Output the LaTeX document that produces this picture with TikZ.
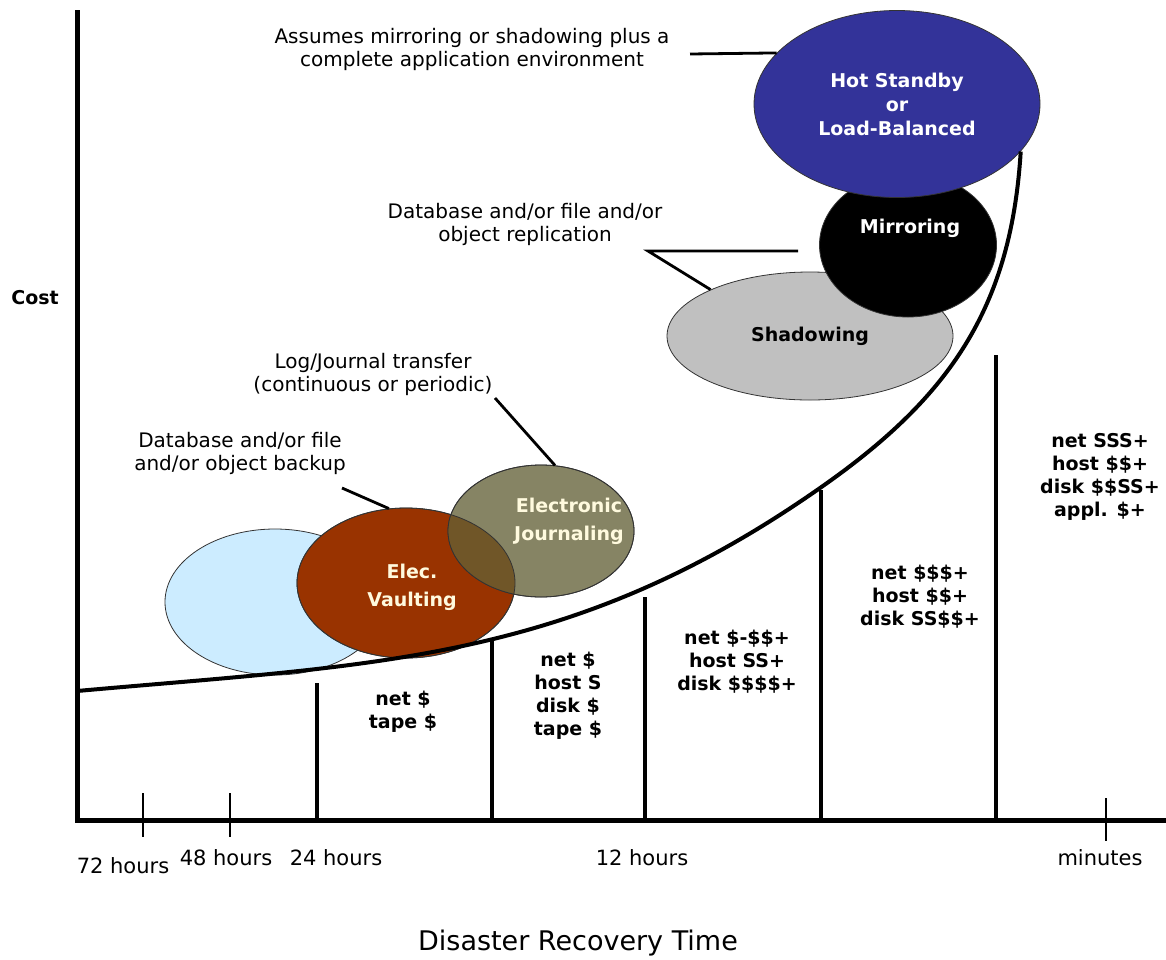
\documentclass[tikz,border=0pt]{standalone}
\usepackage{fontspec}
\setmainfont{DejaVu Sans}
\usepackage{tikz}
\usetikzlibrary{shapes.geometric}

\definecolor{hotblue}{RGB}{51,51,153}
\definecolor{shadowgray}{RGB}{192,192,192}
\definecolor{journolive}{RGB}{134,132,100}
\definecolor{vaultbrown}{RGB}{153,51,0}
\definecolor{backupblue}{RGB}{204,236,255}
\definecolor{overlapbrown}{RGB}{112,86,40}
\definecolor{cream}{RGB}{255,250,222}

\tikzset{
  blob/.style={ellipse, draw=black!80, line width=0.8pt, inner sep=0pt},
  blobtext/.style={font=\fontsize{19}{24}\selectfont\bfseries, align=center, text=white},
  note/.style={font=\fontsize{20}{23}\selectfont, align=center},
  price/.style={font=\fontsize{19}{23}\selectfont\bfseries, align=center},
  hours/.style={font=\fontsize{21}{24}\selectfont},
  bar/.style={line width=3.5pt},
  tickmark/.style={line width=2.5pt},
  lead/.style={line width=2.8pt},
}

\begin{document}
\begin{tikzpicture}[x=1pt,y=-1pt]
\useasboundingbox (0,0) rectangle (1166,959);

% axes
\draw[line width=5pt] (77,10) -- (77,820) -- (1166,820);
\node[font=\fontsize{19}{23}\selectfont\bfseries] (cost) at (35,298) {Cost};

% upper options
\node[blob, fill=shadowgray, minimum width=286pt, minimum height=128pt, font=\fontsize{19}{24}\selectfont\bfseries] (shadow) at (810,336) {Shadowing};
\node[blob, fill=black, minimum width=177pt, minimum height=144pt] (mirror) at (908,245) {};
\node[blobtext] (mirrortxt) at (910,228) {Mirroring};
\node[blob, fill=hotblue, minimum width=286pt, minimum height=187pt, blobtext] (hot) at (897,104) {Hot Standby\\or\\Load-Balanced};

% lower options
\node[blob, fill=backupblue, minimum width=220pt, minimum height=146pt] (backup) at (275,602) {};
\node[blob, fill=vaultbrown, minimum width=218pt, minimum height=150pt] (vault) at (406,583) {};
\node[blob, fill=journolive, minimum width=186pt, minimum height=132pt] (jour) at (541,531) {};
\begin{scope}
  \clip (jour.center) ellipse [x radius=93pt, y radius=66pt];
  \fill[overlapbrown] (vault.center) ellipse [x radius=109pt, y radius=75pt];
\end{scope}
\draw[black!80, line width=0.8pt] (vault.center) ellipse [x radius=109pt, y radius=75pt]
  (jour.center) ellipse [x radius=93pt, y radius=66pt];
\node[blobtext, text=cream, font=\fontsize{19}{28}\selectfont\bfseries] (vaulttxt) at (412,587) {Elec.\\Vaulting};
\node[blobtext, text=cream, font=\fontsize{19}{28}\selectfont\bfseries] (jourtxt) at (569,521) {Electronic\\Journaling};

% cost curve
\coordinate (curvestart) at (77,691);
\coordinate (curvemid) at (820,488);
\draw[line width=4pt] (curvestart) .. controls (377,664) and (570,663) .. (curvemid)
  .. controls (949,398) and (1011,309) .. (hot.-21);

% notes and leaders
\node[note] (assume) at (472,49) {Assumes mirroring or shadowing plus a\\complete application environment};
\node[note] (replic) at (525,224) {Database and/or file and/or\\object replication};
\node[note] (logxfer) at (373,374) {Log/Journal transfer\\(continuous or periodic)};
\node[note] (bkup) at (240,453) {Database and/or file\\and/or object backup};
\coordinate (assumeend) at (690,54);
\coordinate (replicend) at (798,251);
\coordinate (replicbend) at (648,251);
\coordinate (logend) at (495,398);
\coordinate (bkupend) at (342,488);
\draw[lead] (assumeend) -- (hot.157);
\draw[lead] (replicend) -- (replicbend) -- (shadow.155);
\draw[lead] (logend) -- (jour.78);
\draw[lead] (bkupend) -- (vault.103);

% columns
\draw[bar] (317,683) -- (317,818);
\draw[bar] (492,640) -- (492,818);
\draw[bar] (645,597) -- (645,818);
\draw[bar] (821,490) -- (821,818);
\draw[bar] (996,355) -- (996,818);
\node[price] (col1) at (403,712) {net \$\\tape \$};
\node[price] (col2) at (568,696) {net \$\\host S\\disk \$\\tape \$};
\node[price] (col3) at (737,662) {net \$-\$\$+\\host SS+\\disk \$\$\$\$+};
\node[price] (col4) at (920,597) {net \$\$\$+\\host \$\$+\\disk SS\$\$+};
\node[price] (col5) at (1100,477) {net SSS+\\host \$\$+\\disk \$\$SS+\\appl. \$+};

% time axis
\draw[tickmark] (143,793) -- (143,837);
\draw[tickmark] (230,793) -- (230,837);
\draw[tickmark] (1106,798) -- (1106,841);
\node[hours] (h72) at (123,866) {72 hours};
\node[hours] (h48) at (226,858) {48 hours};
\node[hours] (h24) at (336,858) {24 hours};
\node[hours] (h12) at (642,858) {12 hours};
\node[hours] (hmin) at (1100,858) {minutes};
\node[font=\fontsize{27}{30}\selectfont] (drtime) at (578,943) {Disaster Recovery Time};
\end{tikzpicture}
\end{document}
